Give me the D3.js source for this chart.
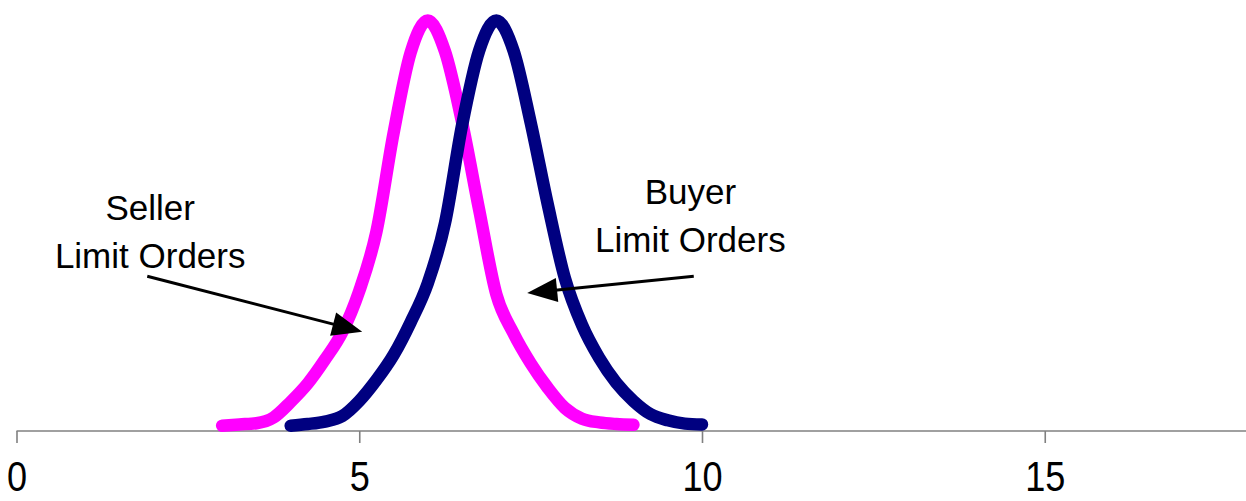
<!DOCTYPE html>
<html>
<head>
<meta charset="utf-8">
<script src="https://cdn.jsdelivr.net/npm/d3@7/dist/d3.min.js"></script>
<style>
  html, body { margin: 0; padding: 0; background: #ffffff; }
  svg { display: block; }
  text { font-family: "Liberation Sans", Arial, sans-serif; fill: #000; }
</style>
</head>
<body>
<div id="chart"></div>
<script>
// Price levels (x) at which order density is sampled
const sellerPrices = [3, 3.25, 3.5, 3.75, 4, 4.25, 4.5, 4.75, 5, 5.25, 5.5, 5.75, 6,
                      6.25, 6.5, 6.75, 7, 7.25, 7.5, 7.75, 8, 8.25, 8.5, 8.75, 9];
// Relative density of seller limit orders (peak = 100)
const sellerDensity = [1.3, 1.6, 1.9, 3.3, 7.1, 11.6, 17.4, 24.0, 34.1, 48.5, 72.5, 92.2, 100,
                       92.5, 75.2, 53.8, 33.3, 23.8, 16.5, 10.5, 5.6, 3.0, 2.1, 1.7, 1.5];

const buyerPrices = [4, 4.25, 4.5, 4.75, 5, 5.25, 5.5, 5.75, 6, 6.25, 6.5, 6.75, 7,
                     7.25, 7.5, 7.75, 8, 8.25, 8.5, 8.75, 9, 9.25, 9.5, 9.75, 10];
// Relative density of buyer limit orders (peak = 100)
const buyerDensity = [1.3, 1.7, 2.3, 3.6, 7.3, 12.4, 18.5, 26.5, 36.0, 50.6, 74.5, 92.7, 100,
                      92.7, 75.2, 55.2, 37.2, 25.8, 17.8, 11.7, 7.3, 4.1, 2.6, 1.8, 1.6];

// Axis ticks
const xTicks = [0, 5, 10, 15];
const xTickLabels = ["0", "5", "10", "15"];

// Callout labels: text lines, label anchor and arrow (in data units)
const sellerLabel = ["Seller", "Limit Orders"];
const buyerLabel = ["Buyer", "Limit Orders"];
const sellerLabelAt = [1.95, 51.3];
const buyerLabelAt = [9.83, 55.3];
const sellerArrow = [[1.907, 37.7], [5.043, 24.2]];
const buyerArrow = [[9.88, 37.7], [7.45, 33.6]];

const W = 1246, H = 501;
const svg = d3.select("#chart").append("svg")
  .attr("width", W).attr("height", H)
  .style("background", "#fff");

const x = d3.scaleLinear().domain([0, 18]).range([16.5, 16.5 + 18 * 68.55]);
const y = d3.scaleLinear().domain([0, 100]).range([431, 20.5]);

// Horizontal axis with downward ticks
const axis = d3.axisBottom(x)
  .tickValues(xTicks)
  .tickFormat((d, i) => xTickLabels[i])
  .tickSizeInner(12)
  .tickSizeOuter(0)
  .tickPadding(0);

const gAxis = svg.append("g")
  .attr("transform", `translate(0,${y(0)})`)
  .call(axis);
gAxis.select(".domain")
  .attr("d", `M${x(0)},0H${W}`)
  .attr("stroke", "#808080").attr("stroke-width", 1.6);
gAxis.selectAll(".tick line").attr("stroke", "#808080").attr("stroke-width", 1.6);
gAxis.selectAll(".tick text")
  .style("font-family", "'Liberation Sans', Arial, sans-serif")
  .attr("font-size", 42)
  .attr("fill", "#000")
  .attr("y", null)
  .attr("dy", null)
  .attr("transform", "translate(0,60) scale(0.86,1)");

// Density curves
const line = d3.line()
  .x(d => x(d[0]))
  .y(d => y(d[1]))
  .curve(d3.curveMonotoneX);

const series = [
  { name: "seller", xs: sellerPrices, ys: sellerDensity, color: "#ff00ff" },
  { name: "buyer", xs: buyerPrices, ys: buyerDensity, color: "#000080" }
];

svg.append("g").selectAll("path")
  .data(series)
  .join("path")
  .attr("class", d => "curve " + d.name)
  .attr("d", d => line(d.xs.map((v, i) => [v, d.ys[i]])))
  .attr("fill", "none")
  .attr("stroke", d => d.color)
  .attr("stroke-width", 12.5)
  .attr("stroke-linecap", "round")
  .attr("stroke-linejoin", "round");

// Callout text blocks
function label(lines, at) {
  const t = svg.append("text")
    .attr("text-anchor", "middle")
    .attr("font-size", 35);
  lines.forEach((s, i) => {
    t.append("tspan")
      .attr("x", x(at[0]))
      .attr("y", y(at[1]) + i * 48)
      .text(s);
  });
}
label(sellerLabel, sellerLabelAt);
label(buyerLabel, buyerLabelAt);

// Arrows with filled triangular heads
function arrow(pts) {
  const x0 = x(pts[0][0]), y0 = y(pts[0][1]);
  const x1 = x(pts[1][0]), y1 = y(pts[1][1]);
  const dx = x1 - x0, dy = y1 - y0, len = Math.hypot(dx, dy);
  const ux = dx / len, uy = dy / len;
  const headLen = 30, headHalf = 12;
  const bx = x1 - ux * headLen, by = y1 - uy * headLen;
  svg.append("line")
    .attr("x1", x0).attr("y1", y0).attr("x2", bx + ux * 2).attr("y2", by + uy * 2)
    .attr("stroke", "#000").attr("stroke-width", 3);
  svg.append("path")
    .attr("d", `M${x1},${y1}L${bx - uy * headHalf},${by + ux * headHalf}L${bx + uy * headHalf},${by - ux * headHalf}Z`)
    .attr("fill", "#000");
}
arrow(sellerArrow);
arrow(buyerArrow);
</script>
</body>
</html>
